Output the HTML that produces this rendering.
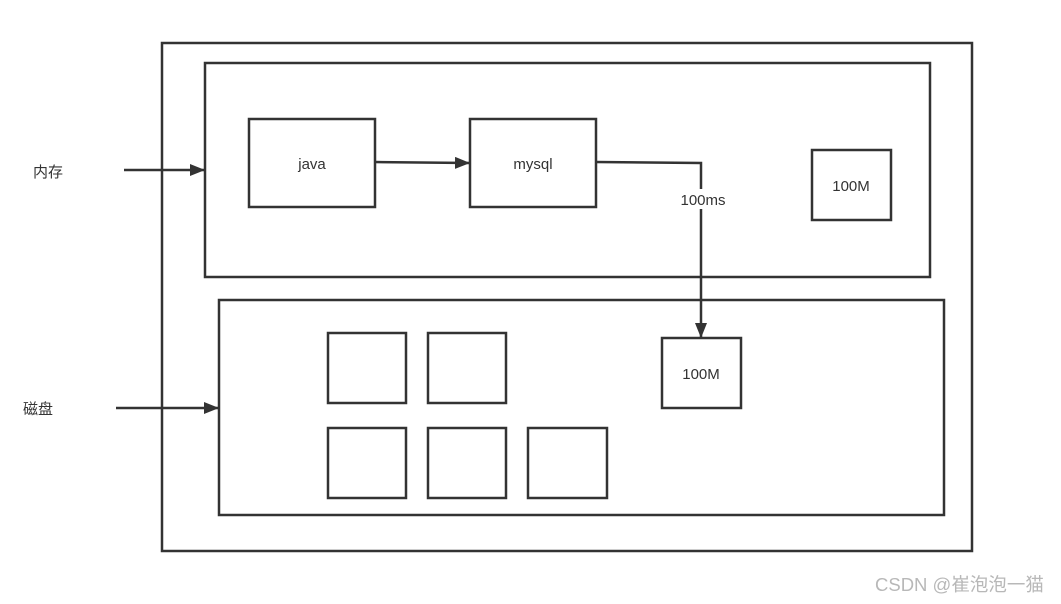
<!DOCTYPE html>
<html><head><meta charset="utf-8"><style>
html,body{margin:0;padding:0;background:#fff;}
svg{display:block}
text{font-family:"Liberation Sans","Noto Sans CJK SC",sans-serif;fill:#333;}
</style></head><body>
<svg width="1061" height="604" viewBox="0 0 1061 604" xmlns="http://www.w3.org/2000/svg">
<defs>
<marker id="b" viewBox="0 0 10 10" refX="10" refY="5" markerWidth="15" markerHeight="12" orient="auto" markerUnits="userSpaceOnUse" preserveAspectRatio="none"><path d="M0,0 L10,5 L0,10 z" fill="#333"/></marker></defs>
<g fill="none" stroke="#333" stroke-width="2.5">
<rect x="162" y="43" width="810" height="508"/>
<rect x="205" y="63" width="725" height="214"/>
<rect x="219" y="300" width="725" height="215"/>
<rect x="249" y="119" width="126" height="88"/>
<rect x="470" y="119" width="126" height="88"/>
<rect x="812" y="150" width="79" height="70"/>
<rect x="662" y="338" width="79" height="70"/>
<rect x="328" y="333" width="78" height="70"/>
<rect x="428" y="333" width="78" height="70"/>
<rect x="328" y="428" width="78" height="70"/>
<rect x="428" y="428" width="78" height="70"/>
<rect x="528" y="428" width="79" height="70"/>
<line x1="375" y1="162" x2="470" y2="163" marker-end="url(#b)"/>
<polyline points="596,162 701,163 701,338" marker-end="url(#b)"/>
<line x1="124" y1="170" x2="205" y2="170" marker-end="url(#b)"/>
<line x1="116" y1="408" x2="219" y2="408" marker-end="url(#b)"/>
</g>
<rect x="678" y="189" width="50" height="20" fill="#fff"/>
<text x="703" y="205" font-size="15" text-anchor="middle">100ms</text>
<text x="312" y="169" font-size="15" text-anchor="middle">java</text>
<text x="533" y="169" font-size="15" text-anchor="middle">mysql</text>
<text x="851" y="191" font-size="15" text-anchor="middle">100M</text>
<text x="701" y="379" font-size="15" text-anchor="middle">100M</text>
<text x="33" y="177" font-size="15">内存</text>
<text x="23" y="414" font-size="15">磁盘</text>
<text x="875" y="591" font-size="18.5" style="fill:#b8b8b8">CSDN @崔泡泡一猫</text>
</svg>
</body></html>
